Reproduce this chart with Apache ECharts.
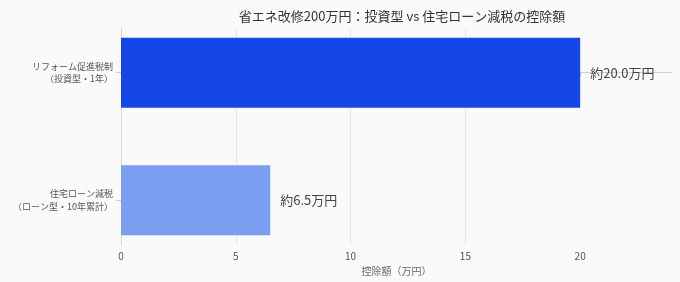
<!DOCTYPE html>
<html><head><meta charset="utf-8">
<script src="https://cdn.jsdelivr.net/npm/echarts@6/dist/echarts.min.js"></script>
<style>html,body{margin:0;padding:0;background:#fafafa}#c{width:680px;height:282px}</style>
</head><body><div id="c"></div>
<script>
const categories = ['リフォーム促進税制\n（投資型・1年）', '住宅ローン減税\n（ローン型・10年累計）'];
const values = [20.0, 6.5];
const colors = ['#1546e6', '#7b9ef0'];
const xTicks = [0, 5, 10, 15, 20];

const FONT = '"Noto Sans CJK JP", "Noto Sans", sans-serif';
const chart = echarts.init(document.getElementById('c'), null, {renderer: 'canvas'});
chart.setOption({
  backgroundColor: '#fafafa',
  animation: false,
  textStyle: {fontFamily: FONT},
  title: {
    text: '省エネ改修200万円：投資型 vs 住宅ローン減税の控除額',
    left: 397, top: 5, textAlign: 'center',
    textStyle: {fontSize: 13, fontWeight: 'normal', color: '#333', fontFamily: FONT}
  },
  grid: {left: 121, right: 8, top: 28, bottom: 37},
  xAxis: {
    type: 'value', min: 0, max: 24, interval: 5,
    name: '控除額（万円）', nameLocation: 'middle', nameGap: 20,
    nameTextStyle: {fontSize: 10, color: '#666', fontFamily: FONT},
    axisLine: {show: true, lineStyle: {color: '#cfcfcf'}},
    axisTick: {show: true, length: 4, lineStyle: {color: '#cfcfcf'}, customValues: xTicks},
    axisLabel: {fontSize: 10, color: '#555', margin: 6, customValues: xTicks, fontFamily: FONT},
    splitLine: {show: true, showMaxLine: false, lineStyle: {color: '#e6e6e6'}}
  },
  yAxis: {
    type: 'value', min: -0.35, max: 1.35, inverse: true,
    axisLine: {show: true, lineStyle: {color: '#d5d5d5'}},
    axisTick: {show: true, length: 5, lineStyle: {color: '#cfcfcf'}, customValues: [0, 1]},
    axisLabel: {
      customValues: [0, 1], fontSize: 9, color: '#555', lineHeight: 12.5, align: 'right', margin: 8,
      fontFamily: FONT,
      formatter: v => categories[Math.round(v)] || ''
    },
    splitLine: {show: false}
  },
  series: [{
    type: 'custom',
    data: values.map((v, i) => [v, i]),
    encode: {x: 0, y: 1},
    renderItem: (params, api) => {
      const v = api.value(0), idx = api.value(1);
      const p0 = api.coord([0, idx]);
      const p1 = api.coord([v, idx]);
      const h = Math.abs(api.size([0, 0.548])[1]);
      return {
        type: 'group',
        children: [{
          type: 'rect',
          shape: {x: p0[0], y: p0[1] - h / 2, width: p1[0] - p0[0], height: h},
          style: {fill: colors[idx]}
        }, {
          type: 'text',
          style: {
            x: p1[0] + 10, y: p1[1],
            text: '約' + v.toFixed(1) + '万円',
            fill: '#444', font: '13px ' + FONT,
            textVerticalAlign: 'middle', verticalAlign: 'middle', align: 'left'
          }
        }]
      };
    }
  }]
});
</script></body></html>
